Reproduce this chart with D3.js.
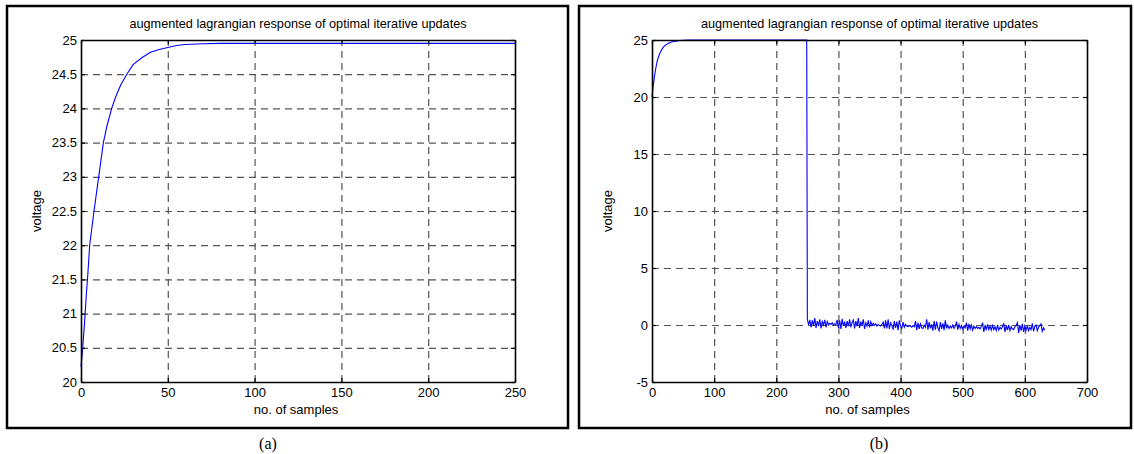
<!DOCTYPE html>
<html>
<head>
<meta charset="utf-8">
<script src="https://cdn.jsdelivr.net/npm/d3@7"></script>
<style>
  body { margin: 0; background: #fff; }
  svg { display: block; }
  text { font-family: Arial, "Liberation Sans", sans-serif; fill: #000; }
</style>
</head>
<body>
<div id="chart"></div>
<script>
const titleText = 'augmented lagrangian response of optimal iterative updates';

// panel (a)
const aSamples = [0, 1, 2, 3, 4, 5, 6, 7.5, 9, 10.2, 12.9, 15, 17.7, 20, 23, 26.4, 30, 35, 40, 45, 50, 55, 60, 70, 80, 250];
const aVoltage = [20.22, 20.5, 20.85, 21.25, 21.6, 22.0, 22.2, 22.5, 22.78, 23.0, 23.5, 23.75, 24.0, 24.17, 24.35, 24.5, 24.64, 24.74, 24.82, 24.86, 24.89, 24.92, 24.935, 24.945, 24.95, 24.95];
const aXTicks = [0, 50, 100, 150, 200, 250];
const aYTicks = [20, 20.5, 21, 21.5, 22, 22.5, 23, 23.5, 24, 24.5, 25];

// panel (b)
const bRiseSamples = [0, 2, 4, 6, 8, 10, 12, 15, 18, 21, 25, 30, 35, 40, 45, 50, 60, 80, 249];
const bRiseVoltage = [20.0, 21.0, 21.8, 22.5, 23.05, 23.45, 23.75, 24.1, 24.35, 24.52, 24.68, 24.8, 24.87, 24.92, 24.95, 24.97, 24.99, 25.0, 25.0];
const bNoiseStart = 250;
const bNoiseStep = 2;
const bNoiseVoltage = [
  0.5, 0.0, 0.45, -0.2, 0.4, -0.05, 0.6, -0.25, 0.35, -0.1, 0.5, -0.3, 0.3, 0.0, 0.45, -0.2,
  0.3, 0.0, 0.15, 0.05, 0.2, 0.0, 0.1, 0.05, 0.45, -0.25, 0.4, -0.35, 0.55, -0.1, 0.3, -0.25,
  0.35, -0.1, 0.5, -0.2, 0.2, 0.45, -0.3, 0.35, -0.1, 0.6, -0.25, 0.3, -0.05, 0.5, -0.35, 0.2,
  -0.1, 0.4, -0.2, 0.3, -0.05, 0.15, 0.0, 0.1, -0.1, 0.05, -0.05, -0.1, 0.05, 0.25, -0.3, 0.4,
  -0.3, 0.5, -0.35, 0.2, -0.05, -0.4, 0.35, -0.25, 0.3, -0.45, 0.4, -0.1, -0.3, 0.25, -0.2, 0.05,
  -0.1, -0.15, -0.05, -0.1, -0.2, -0.05, -0.15, 0.35, -0.45, 0.2, -0.35, 0.1, -0.25, -0.3, 0.0, -0.2,
  0.5, -0.4, 0.25, -0.3, 0.05, -0.5, 0.35, -0.4, 0.3, -0.25, -0.5, 0.25, -0.35, 0.15, -0.45, 0.4,
  -0.3, 0.0, -0.3, -0.1, -0.25, 0.0, -0.3, -0.1, 0.3, -0.4, 0.05, -0.3, -0.05, -0.35, -0.1, -0.25,
  0.2, -0.5, 0.1, -0.35, 0.0, -0.45, -0.1, -0.3, -0.15, -0.3, -0.2, -0.35, -0.1, 0.2, -0.6, 0.0,
  -0.45, 0.05, -0.4, -0.1, -0.45, -0.05, -0.4, -0.15, -0.5, 0.0, -0.45, -0.2, -0.35, -0.15, 0.15, -0.6,
  -0.05, -0.45, 0.0, -0.5, -0.15, -0.35, -0.4, -0.15, -0.05, 0.2, -0.7, 0.0, -0.5, 0.1, -0.6, -0.1,
  -0.45, -0.05, -0.5, -0.2, -0.4, 0.15, -0.55, -0.1, 0.0, -0.5, -0.2, -0.05, 0.1, -0.55, -0.25, -0.45
];
const bXTicks = [0, 100, 200, 300, 400, 500, 600, 700];
const bYTicks = [-5, 0, 5, 10, 15, 20, 25];

const svg = d3.select('#chart').append('svg')
    .attr('width', 1134)
    .attr('height', 454);

// plain number labels, hyphen for minus like the original
let tickLabel = d => String(d);

let drawPanel = function (p) {
    const g = svg.append('g');

    // outer frame
    g.append('rect')
        .attr('x', p.frame[0]).attr('y', p.frame[1])
        .attr('width', p.frame[2]).attr('height', p.frame[3])
        .attr('fill', 'none').attr('stroke', '#000').attr('stroke-width', 2.5);

    const x = d3.scaleLinear().domain(p.xDomain).range([p.left, p.right]);
    const y = d3.scaleLinear().domain(p.yDomain).range([p.bottom, p.top]);
    const h = p.bottom - p.top;
    const w = p.right - p.left;

    // dashed grid
    const grid = g.append('g').attr('class', 'grid');
    grid.append('g')
        .attr('transform', `translate(0,${p.bottom})`)
        .call(d3.axisBottom(x).tickValues(p.xTicks.slice(1, -1)).tickSize(-h).tickFormat(''));
    grid.append('g')
        .attr('transform', `translate(${p.left},0)`)
        .call(d3.axisLeft(y).tickValues(p.yTicks.slice(1, -1)).tickSize(-w).tickFormat(''));
    grid.selectAll('.domain').remove();
    grid.selectAll('line')
        .attr('stroke', '#555')
        .attr('stroke-width', 1.2)
        .attr('stroke-dasharray', '7,5');

    // data line
    const line = d3.line().x(d => x(d[0])).y(d => y(d[1]));
    g.append('path')
        .datum(p.points)
        .attr('d', line)
        .attr('fill', 'none')
        .attr('stroke', '#0000ff')
        .attr('stroke-width', 1.1);

    // inward ticks on all four sides
    const bottomAxis = g.append('g')
        .attr('transform', `translate(0,${p.bottom})`)
        .call(d3.axisBottom(x).tickValues(p.xTicks).tickFormat(tickLabel)
            .tickSizeInner(-4).tickSizeOuter(0).tickPadding(6));
    g.append('g')
        .attr('transform', `translate(0,${p.top})`)
        .call(d3.axisTop(x).tickValues(p.xTicks).tickSizeInner(-4).tickSizeOuter(0).tickFormat(''));
    const leftAxis = g.append('g')
        .attr('transform', `translate(${p.left},0)`)
        .call(d3.axisLeft(y).tickValues(p.yTicks).tickFormat(tickLabel)
            .tickSizeInner(-4).tickSizeOuter(0).tickPadding(4));
    g.append('g')
        .attr('transform', `translate(${p.right},0)`)
        .call(d3.axisRight(y).tickValues(p.yTicks).tickSizeInner(-4).tickSizeOuter(0).tickFormat(''));

    g.selectAll('.domain').attr('stroke', '#000').attr('stroke-width', 1.6);
    g.selectAll('.tick line').filter(function () { return !this.closest('.grid'); })
        .attr('stroke', '#000').attr('stroke-width', 1.2);
    bottomAxis.selectAll('text').attr('font-size', 13).attr('font-family', 'Arial, "Liberation Sans", sans-serif');
    leftAxis.selectAll('text').attr('font-size', 13).attr('font-family', 'Arial, "Liberation Sans", sans-serif');

    // title and labels
    g.append('text')
        .attr('x', (p.left + p.right) / 2).attr('y', 28)
        .attr('text-anchor', 'middle').attr('font-size', 12.7)
        .text(titleText);
    g.append('text')
        .attr('x', (p.left + p.right) / 2 - 2).attr('y', 414)
        .attr('text-anchor', 'middle').attr('font-size', 13)
        .text('no. of samples');
    g.append('text')
        .attr('transform', `translate(${p.yLabelX},${(p.top + p.bottom) / 2}) rotate(-90)`)
        .attr('text-anchor', 'middle').attr('font-size', 13)
        .text('voltage');
    g.append('text')
        .attr('x', p.captionX).attr('y', 449)
        .attr('text-anchor', 'middle').attr('font-size', 16)
        .style('font-family', '"Times New Roman", "Liberation Serif", serif')
        .text(p.caption);
};

const aPoints = aSamples.map((s, i) => [s, aVoltage[i]]);
const bPoints = bRiseSamples.map((s, i) => [s, bRiseVoltage[i]])
    .concat(bNoiseVoltage.map((v, i) => [bNoiseStart + i * bNoiseStep, v]));

drawPanel({
    frame: [7, 6, 561, 422],
    left: 81, right: 515, top: 40, bottom: 382,
    xDomain: [0, 250], yDomain: [20, 25],
    xTicks: aXTicks, yTicks: aYTicks,
    points: aPoints,
    yLabelX: 41, captionX: 268, caption: '(a)'
});

drawPanel({
    frame: [579, 6, 552, 422],
    left: 652, right: 1087, top: 40, bottom: 382,
    xDomain: [0, 700], yDomain: [-5, 25],
    xTicks: bXTicks, yTicks: bYTicks,
    points: bPoints,
    yLabelX: 612, captionX: 879, caption: '(b)'
});
</script>
</body>
</html>
